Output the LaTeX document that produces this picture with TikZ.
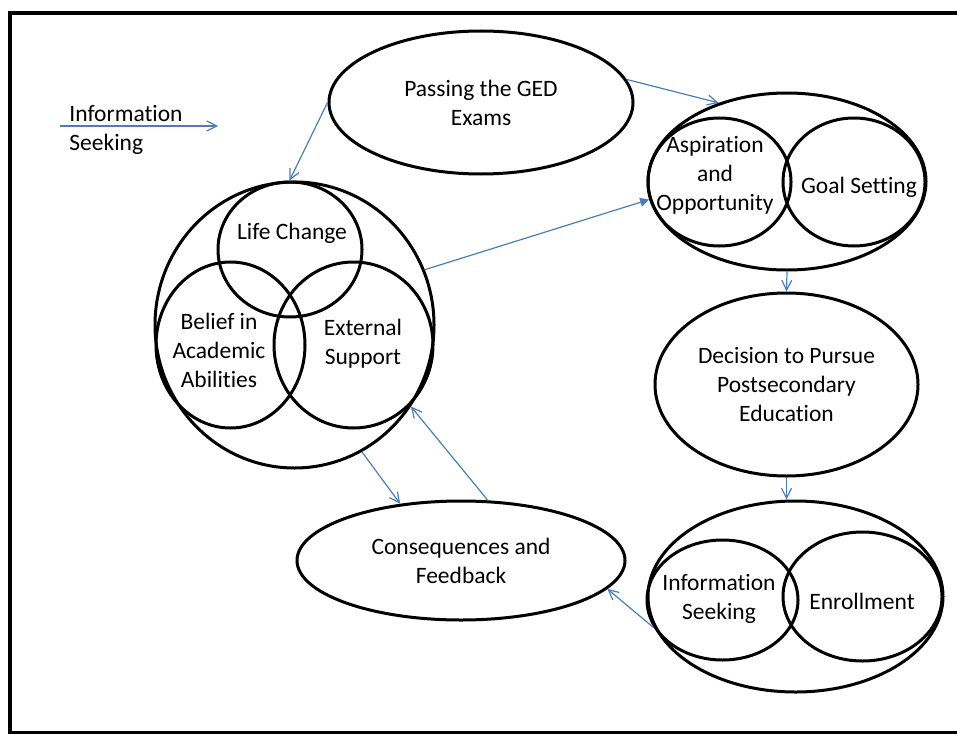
\documentclass[tikz,border=0pt]{standalone}
\usepackage{fontspec}
\setmainfont{Carlito}[Ligatures=CommonOff]
\usetikzlibrary{shapes.geometric}
\usetikzlibrary{arrows.meta}

\definecolor{linkblue}{RGB}{74,126,187}

\begin{document}
\begin{tikzpicture}[x=0.5pt, y=-0.5pt, font=\fontsize{11.75}{14.5}\selectfont,
  blob/.style={draw, ellipse, line width=1.5pt, inner sep=0pt, align=center},
  lbl/.style={align=center, inner sep=0pt},
  link/.style={draw=linkblue, line width=0.6pt, -{Straight Barb[length=5pt,width=5pt]}},
  solidlink/.style={draw=linkblue, line width=0.6pt, -{Triangle[length=4.5pt,width=4.5pt]}}]

\useasboundingbox (0,0) rectangle (957,733);
\clip (0,0) rectangle (957,733);

% frame
\draw[line width=2pt] (10,13.5) rectangle (965,732.5);

% legend
\node[lbl, anchor=west, align=left] (legend) at (69,129.5) {Information\\Seeking};
\coordinate (legA) at (60,126);
\coordinate (legB) at (218,126);
\draw[link] (legA) -- (legB);

\node[blob, minimum width=152pt, minimum height=71.5pt] (pass) at (481,102.5) {Passing the GED\\Exams};

%%%Venn on the left
\node[blob, minimum width=139.5pt, minimum height=143pt] (venn) at (294.5,325) {};
\node[blob, minimum width=72pt, minimum height=67.5pt] (life) at (290,249.5) {};
\node[blob, minimum width=74.5pt, minimum height=83pt] (belief) at (230.5,345) {};
\node[blob, minimum width=79.5pt, minimum height=83pt] (extern) at (353.5,345) {};
\node[lbl] (lifeT) at (292,233) {Life Change};
\node[lbl] (beliefT) at (219,350) {Belief in\\Academic\\Abilities};
\node[lbl] (externT) at (363,344) {External\\Support};

%%%Aspiration / goals
\node[blob, minimum width=139pt, minimum height=88.5pt] (aspout) at (787,181.5) {};
\node[blob, minimum width=71.5pt, minimum height=64pt] (asp) at (719.5,182) {};
\node[blob, minimum width=71pt, minimum height=64pt] (goal) at (854,182) {};
\node[lbl] (aspT) at (715,175.5) {Aspiration\\and\\Opportunity};
\node[lbl] (goalT) at (859,187) {Goal Setting};

\node[blob, minimum width=131.5pt, minimum height=91.5pt] (decide) at (786.5,384.5) {Decision to Pursue\\Postsecondary\\Education};

%%%Enrollment
\node[blob, minimum width=147.5pt, minimum height=95.5pt] (enrout) at (795.5,596.5) {};
\node[blob, minimum width=75.5pt, minimum height=60pt] (seek) at (722.5,600) {};
\node[blob, minimum width=79.5pt, minimum height=64.5pt] (enrol) at (862.5,596.5) {};
\node[lbl] (seekT) at (719,599) {Information\\Seeking};
\node[lbl] (enrolT) at (862,601) {Enrollment};

\node[blob, minimum width=164pt, minimum height=59.5pt] (conseq) at (461,560.5) {Consequences and\\Feedback};

% arrows
\draw[link] (pass.180) -- (venn.92);
\draw[link] (pass.9) -- (aspout.131);
\draw[solidlink] (venn.23) -- (asp.194);
\draw[link] (aspout.south) -- (decide.north);
\draw[link] (decide.south) -- (decide.south |- enrout.north);
\draw[link] (seek.202) -- (conseq.-11);
\draw[link] (venn.-62) -- (conseq.137);
\draw[link] (conseq.66) -- (venn.-35);

\end{tikzpicture}
\end{document}
